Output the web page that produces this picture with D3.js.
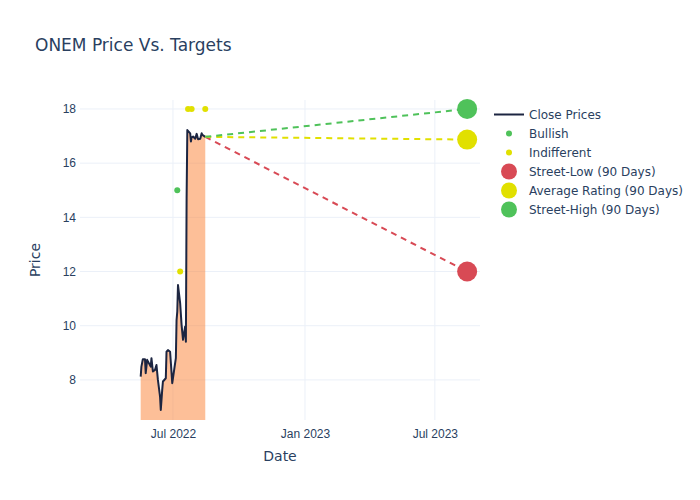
<!DOCTYPE html>
<html>
<head>
<meta charset="utf-8">
<script src="https://cdn.jsdelivr.net/npm/d3@7"></script>
<style>
  html, body { margin: 0; padding: 0; background: #fff; }
  svg { display: block; font-family: "DejaVu Sans", "Open Sans", verdana, arial, sans-serif; }
</style>
</head>
<body>
<svg id="chart" width="700" height="500"></svg>
<script>
// ---------- data ----------
const closeDates = [
  "2022-05-17","2022-05-18","2022-05-20","2022-05-23","2022-05-24","2022-05-26",
  "2022-05-31","2022-06-01","2022-06-03","2022-06-06","2022-06-08","2022-06-10",
  "2022-06-13","2022-06-14","2022-06-16","2022-06-17","2022-06-21","2022-06-22",
  "2022-06-24","2022-06-27","2022-06-30","2022-07-05","2022-07-06","2022-07-07",
  "2022-07-08","2022-07-11","2022-07-13","2022-07-15","2022-07-18","2022-07-19",
  "2022-07-20","2022-07-21","2022-07-25","2022-07-26","2022-07-27","2022-07-29",
  "2022-08-01","2022-08-03","2022-08-05","2022-08-08","2022-08-10","2022-08-11",
  "2022-08-15"
];
const closePrices = [
  8.12, 8.49, 8.76, 8.76, 8.25, 8.74,
  8.49, 8.80, 8.31, 8.37, 8.55, 8.00,
  7.38, 6.89, 7.63, 7.94, 8.06, 9.04,
  9.10, 9.04, 7.88, 8.80, 10.21, 10.52,
  11.50, 10.83, 10.03, 9.48, 9.97, 9.41,
  14.70, 17.22, 17.10, 16.80, 16.95, 16.98,
  16.90, 17.08, 16.88, 16.90, 17.10, 17.04,
  16.97
];
const bullishDates = ["2022-07-07"];
const bullishTargets = [15];
const indifferentDates = ["2022-07-11", "2022-07-22", "2022-07-27", "2022-08-15"];
const indifferentTargets = [12, 18, 18, 18];
const targetDate = "2023-08-15";
const targetNames = ["Street-Low (90 Days)", "Average Rating (90 Days)", "Street-High (90 Days)"];
const targetValues = [12, 16.87, 18];
const targetColors = ["#d84a55", "#e1e000", "#4fc25a"];
const yTicks = [8, 10, 12, 14, 16, 18];

// ---------- layout ----------
const svg = d3.select("#chart");
const mLeft = 80, mRight = 480, mTop = 100, mBottom = 420;
const parse = d3.utcParse("%Y-%m-%d");
const textColor = "#2a3f5f";
const gridColor = "#ebf0f8";

const x = d3.scaleUtc()
  .domain([new Date(Date.UTC(2022, 1, 21, 10)), new Date(Date.UTC(2023, 8, 1, 22))])
  .range([mLeft, mRight]);
const y = d3.scaleLinear().domain([6.52, 18.33]).range([mBottom, mTop]);

// grid
const xTickVals = d3.utcMonth.every(6).range(x.domain()[0], x.domain()[1]);
svg.append("g").selectAll("line").data(xTickVals).join("line")
  .attr("x1", d => x(d)).attr("x2", d => x(d))
  .attr("y1", mTop).attr("y2", mBottom)
  .attr("stroke", gridColor).attr("stroke-width", 1);
svg.append("g").selectAll("line").data(yTicks).join("line")
  .attr("x1", mLeft).attr("x2", mRight)
  .attr("y1", d => y(d)).attr("y2", d => y(d))
  .attr("stroke", gridColor).attr("stroke-width", 1);

// axes
const xAxis = d3.axisBottom(x).tickValues(xTickVals).tickFormat(d3.utcFormat("%b %Y")).tickSize(0).tickPadding(9);
const gx = svg.append("g").attr("transform", `translate(0,${mBottom})`).call(xAxis);
gx.select(".domain").remove();
gx.selectAll("text").attr("fill", textColor).style("font-size", "12px").style("font-family", "inherit");

const yAxis = d3.axisLeft(y).tickValues(yTicks).tickSize(0).tickPadding(4);
const gy = svg.append("g").attr("transform", `translate(${mLeft},0)`).call(yAxis);
gy.select(".domain").remove();
gy.selectAll("text").attr("fill", textColor).style("font-size", "12px").style("font-family", "inherit");

// clip
svg.append("clipPath").attr("id", "clip").append("rect")
  .attr("x", mLeft).attr("y", mTop).attr("width", mRight - mLeft).attr("height", mBottom - mTop);
const plot = svg.append("g").attr("clip-path", "url(#clip)");

const closeData = closeDates.map((d, i) => ({ date: parse(d), value: closePrices[i] }));

// fill area
plot.append("path").datum(closeData)
  .attr("d", d3.area().x(d => x(d.date)).y0(y(0)).y1(d => y(d.value)))
  .attr("fill", "rgba(252,128,50,0.5)");

// close line
plot.append("path").datum(closeData)
  .attr("d", d3.line().x(d => x(d.date)).y(d => y(d.value)))
  .attr("fill", "none").attr("stroke", "#1c2541").attr("stroke-width", 2)
  .attr("stroke-linejoin", "round");

// dashed target lines
const last = closeData[closeData.length - 1];
const tDate = parse(targetDate);
targetValues.forEach((v, i) => {
  plot.append("line")
    .attr("x1", x(last.date)).attr("y1", y(last.value))
    .attr("x2", x(tDate)).attr("y2", y(v))
    .attr("stroke", targetColors[i]).attr("stroke-width", 2)
    .attr("stroke-dasharray", "6,5");
});

// analyst points
plot.append("g").selectAll("circle").data(bullishDates.map((d, i) => ({ date: parse(d), value: bullishTargets[i] })))
  .join("circle").attr("cx", d => x(d.date)).attr("cy", d => y(d.value)).attr("r", 3)
  .attr("fill", "#4fc25a");
plot.append("g").selectAll("circle").data(indifferentDates.map((d, i) => ({ date: parse(d), value: indifferentTargets[i] })))
  .join("circle").attr("cx", d => x(d.date)).attr("cy", d => y(d.value)).attr("r", 3)
  .attr("fill", "#e1e000");

// target markers
svg.append("g").selectAll("circle").data(targetValues).join("circle")
  .attr("cx", x(tDate)).attr("cy", d => y(d)).attr("r", 10)
  .attr("fill", (d, i) => targetColors[i]);

// title
svg.append("text").attr("x", 35).attr("y", 51).text("ONEM Price Vs. Targets")
  .attr("fill", textColor).style("font-size", "17px");

// axis titles
svg.append("text").attr("x", (mLeft + mRight) / 2).attr("y", 461).attr("text-anchor", "middle")
  .text("Date").attr("fill", textColor).style("font-size", "14px");
svg.append("text").attr("transform", `translate(40,${(mTop + mBottom) / 2}) rotate(-90)`)
  .attr("text-anchor", "middle").text("Price").attr("fill", textColor).style("font-size", "14px");

// legend
const legendItems = [
  { name: "Close Prices", type: "line", color: "#1c2541" },
  { name: "Bullish", type: "dot", color: "#4fc25a", r: 3 },
  { name: "Indifferent", type: "dot", color: "#e1e000", r: 3 },
  { name: targetNames[0], type: "dot", color: targetColors[0], r: 8 },
  { name: targetNames[1], type: "dot", color: targetColors[1], r: 8 },
  { name: targetNames[2], type: "dot", color: targetColors[2], r: 8 }
];
const lg = svg.append("g");
legendItems.forEach((it, i) => {
  const cy = 114.5 + i * 19;
  if (it.type === "line") {
    lg.append("line").attr("x1", 494).attr("x2", 524).attr("y1", cy).attr("y2", cy)
      .attr("stroke", it.color).attr("stroke-width", 2);
  } else {
    lg.append("circle").attr("cx", 509).attr("cy", cy).attr("r", it.r).attr("fill", it.color);
  }
  lg.append("text").attr("x", 529).attr("y", cy).attr("dy", "0.35em").text(it.name)
    .attr("fill", textColor).style("font-size", "12px");
});
</script>
</body>
</html>
